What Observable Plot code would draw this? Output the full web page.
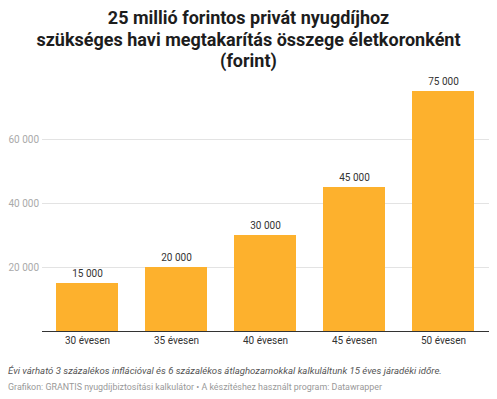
<!DOCTYPE html>
<html>
<head>
<meta charset="utf-8">
<script src="https://cdn.jsdelivr.net/npm/d3@7"></script>
<script src="https://cdn.jsdelivr.net/npm/@observablehq/plot@0.6"></script>
<style>
  html, body { margin: 0; padding: 0; background: #fff; }
  body { width: 497px; height: 399px; overflow: hidden; font-family: Roboto, sans-serif; }
  #title { height: 70px; padding-top: 7px; box-sizing: border-box; text-align: center; font-weight: 700; font-size: 18px; line-height: 21.5px; color: #1d1d1d; }
  #chart svg { display: block; }
  #note { margin: 8px 0 0 8px; font-style: italic; font-size: 9.6px; line-height: 16px; color: #555; white-space: nowrap; }
  #source { margin: 0 0 0 8px; font-size: 8.9px; line-height: 16px; color: #999; white-space: nowrap; }
</style>
</head>
<body>
<div id="title">25 millió forintos privát nyugdíjhoz<br>szükséges havi megtakarítás összege életkoronként<br>(forint)</div>
<div id="chart"></div>
<div id="note">Évi várható 3 százalékos inflációval és 6 százalékos átlaghozamokkal kalkuláltunk 15 éves járadéki időre.</div>
<div id="source">Grafikon: GRANTIS nyugdíjbiztosítási kalkulátor • A készítéshez használt program: Datawrapper</div>
<script>
const categories = ["30 évesen", "35 évesen", "40 évesen", "45 évesen", "50 évesen"];
const values = [15000, 20000, 30000, 45000, 75000];
const yTicks = [20000, 40000, 60000];

const data = categories.map((c, i) => ({ category: c, value: values[i] }));
const fmt = d3.formatLocale({ thousands: " ", grouping: [3], decimal: ",", currency: ["", ""] }).format(",d");

const chart = Plot.plot({
  width: 497,
  height: 285,
  marginLeft: 42,
  marginRight: 8,
  marginTop: 5,
  marginBottom: 24,
  style: { fontFamily: "Roboto, sans-serif", fontSize: "10px", background: "#fff" },
  x: { domain: categories, paddingInner: 0.3, paddingOuter: 0.15, label: null },
  y: { domain: [0, 80000], label: null, axis: null },
  marks: [
    Plot.gridY(yTicks, { stroke: "#e3e3e3", strokeOpacity: 1 }),
    Plot.text(yTicks, { y: d => d, text: d => fmt(d), frameAnchor: "left", textAnchor: "start", dx: -34, fill: "#aaa", fontSize: 10 }),
    Plot.barY(data, { x: "category", y: "value", fill: "#fdb12d" }),
    Plot.ruleY([0], { stroke: "#333", strokeWidth: 1 }),
    Plot.text(data, { x: "category", y: "value", text: d => fmt(d.value), dy: -10, fill: "#333", fontSize: 10 }),
    Plot.axisX({ tickSize: 0, tickPadding: 5, fill: "#333", fontSize: 10, label: null })
  ]
});
document.getElementById("chart").appendChild(chart);
</script>
</body>
</html>
